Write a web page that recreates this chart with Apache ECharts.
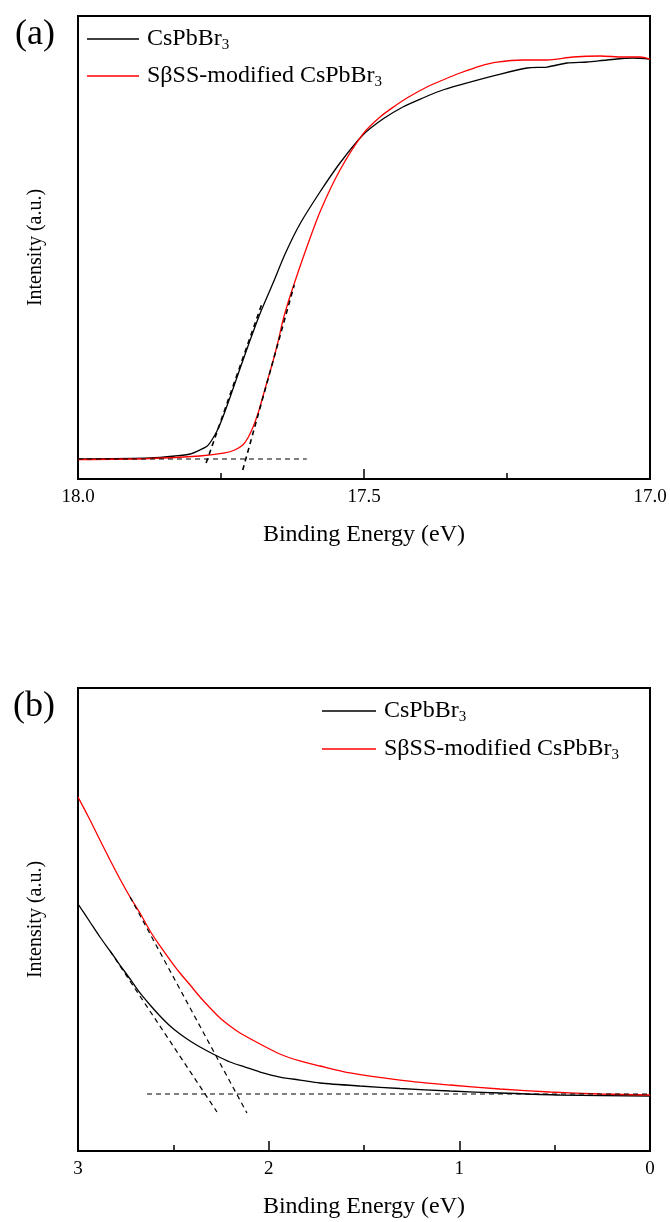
<!DOCTYPE html>
<html>
<head>
<meta charset="utf-8">
<script src="https://cdn.jsdelivr.net/npm/echarts@6/dist/echarts.min.js"></script>
<style>html,body{margin:0;padding:0;background:#fff;}#c{width:670px;height:1222px;}</style>
</head>
<body>
<div id="c"></div>
<script>
// ---- Data (binding energy eV, intensity a.u.) ----
var seriesNames = ['CsPbBr3', 'SβSS-modified CsPbBr3'];
var panelLabels = ['(a)', '(b)'];
var xTicksA = [18.0, 17.5, 17.0];
var xTicksB = [3, 2, 1, 0];

// Panel (a): secondary electron cutoff
var aBlack = [[18.000,4.32],[17.874,4.54],[17.830,4.97],[17.804,5.40],[17.787,6.26],[17.774,7.13],[17.766,8.42],[17.757,10.37],[17.748,12.96],[17.734,17.71],[17.717,23.76],[17.699,30.02],[17.682,35.64],[17.659,42.33],[17.638,48.60],[17.612,55.08],[17.577,61.99],[17.542,68.25],[17.502,74.30],[17.467,77.75],[17.432,80.35],[17.397,82.29],[17.367,83.80],[17.332,85.10],[17.267,87.26],[17.215,88.77],[17.180,88.98],[17.145,89.85],[17.110,90.06],[17.075,90.50],[17.030,90.93],[17.000,90.71]];
var aRed = [[18.000,4.21],[17.874,4.43],[17.787,4.97],[17.743,5.62],[17.726,6.26],[17.712,7.34],[17.703,8.86],[17.694,11.23],[17.685,14.25],[17.677,17.71],[17.668,21.60],[17.659,25.49],[17.650,29.81],[17.642,34.13],[17.633,38.01],[17.624,41.47],[17.603,49.03],[17.577,57.67],[17.542,66.74],[17.502,74.51],[17.472,78.19],[17.446,80.56],[17.425,82.29],[17.390,84.67],[17.358,86.39],[17.332,87.69],[17.297,89.20],[17.267,90.06],[17.222,90.50],[17.180,90.50],[17.135,91.14],[17.087,91.36],[17.047,91.14],[17.017,91.14],[17.000,90.71]];
var aBase = [[18.0,4.32],[17.60,4.32]];
var aTanBlack = [[17.776,3.46],[17.678,38.0]];
var aTanRed = [[17.712,1.94],[17.622,41.9]];

// Panel (b): valence band edge
var bBlack = [[3.000,53.35],[2.937,49.46],[2.885,46.22],[2.832,43.20],[2.780,40.17],[2.727,37.15],[2.675,34.13],[2.622,31.53],[2.570,29.16],[2.517,27.00],[2.465,25.27],[2.412,23.76],[2.360,22.46],[2.281,20.73],[2.203,19.22],[2.124,18.14],[2.045,17.06],[1.941,15.98],[1.836,15.33],[1.731,14.69],[1.521,14.04],[1.311,13.50],[1.049,12.96],[0.787,12.53],[0.472,12.10],[0.000,11.88]];
var bRed = [[3.000,76.46],[2.937,71.49],[2.885,67.17],[2.832,62.85],[2.780,58.75],[2.727,54.86],[2.675,51.40],[2.622,47.52],[2.570,44.28],[2.517,41.25],[2.465,38.44],[2.412,35.85],[2.360,33.26],[2.307,30.89],[2.255,28.73],[2.203,27.00],[2.150,25.49],[2.045,23.11],[1.941,20.95],[1.836,19.44],[1.731,18.36],[1.573,16.85],[1.311,15.33],[1.049,14.25],[0.787,13.39],[0.525,12.74],[0.262,12.31],[0.000,12.10]];
var bBase = [[2.638,12.31],[0.0,12.31]];
var bTanBlack = [[2.832,43.2],[2.271,8.42]];
var bTanRed = [[2.727,54.86],[2.114,8.21]];

var FONT = '"Liberation Serif", "Times New Roman", serif';
var chart = echarts.init(document.getElementById('c'), null, {renderer: 'canvas'});

function legendFmt(name) {
  return '{n|' + name.replace(/3$/, '') + '}{s|3}';
}
var legendText = {
  fontFamily: FONT, fontSize: 24, color: '#000', lineHeight: 28, padding: [0, 0, 0, 3],
  rich: {
    n: {fontFamily: FONT, fontSize: 24, color: '#000', lineHeight: 28},
    s: {fontFamily: FONT, fontSize: 15, color: '#000', lineHeight: 28, verticalAlign: 'bottom', padding: [14, 0, 0, 0]}
  }
};

function xAxisCfg(idx, min, max, interval, dec) {
  return {
    type: 'value', gridIndex: idx, min: min, max: max, interval: interval, inverse: true,
    name: 'Binding Energy (eV)', nameLocation: 'middle', nameGap: 44,
    nameTextStyle: {fontFamily: FONT, fontSize: 24, color: '#000'},
    axisLine: {show: true, onZero: false, lineStyle: {color: '#000', width: 2}},
    axisTick: {show: true, inside: true, length: 10, lineStyle: {color: '#000', width: 1.5}},
    minorTick: {show: true, splitNumber: 2, length: 6, lineStyle: {color: '#000', width: 1.5}},
    axisLabel: {fontFamily: FONT, fontSize: 19, color: '#000', margin: 9,
      formatter: function (v) { return v.toFixed(dec); }},
    splitLine: {show: false}, minorSplitLine: {show: false}
  };
}
function yAxisCfg(idx) {
  return {
    type: 'value', gridIndex: idx, min: 0, max: 100,
    name: 'Intensity (a.u.)', nameLocation: 'middle', nameGap: 32,
    nameTextStyle: {fontFamily: FONT, fontSize: 20, color: '#000'},
    axisLine: {show: true, lineStyle: {color: '#000', width: 2}},
    axisTick: {show: false}, axisLabel: {show: false}, splitLine: {show: false}
  };
}
function curve(name, data, color, xi) {
  return {name: name, type: 'line', xAxisIndex: xi, yAxisIndex: xi, data: data,
    showSymbol: false, smooth: 0.25, lineStyle: {color: color, width: 1.3}, itemStyle: {color: color},
    z: 3, silent: true};
}
function dash(name, data, xi, w) {
  return {name: name, type: 'line', xAxisIndex: xi, yAxisIndex: xi, data: data,
    showSymbol: false, lineStyle: {color: '#000', width: w, type: [5, 4]}, z: 4, silent: true};
}

chart.setOption({
  animation: false,
  backgroundColor: '#fff',
  title: [
    {text: panelLabels[0], left: 10, top: 12, textStyle: {fontFamily: FONT, fontSize: 36, fontWeight: 'normal', color: '#000'}},
    {text: panelLabels[1], left: 8, top: 684, textStyle: {fontFamily: FONT, fontSize: 36, fontWeight: 'normal', color: '#000'}}
  ],
  legend: [
    {left: 82, top: 19, orient: 'vertical', itemGap: 8, itemWidth: 52, itemHeight: 1.5, icon: 'rect',
     data: seriesNames, formatter: legendFmt, textStyle: legendText, selectedMode: false},
    {left: 317, top: 691, orient: 'vertical', itemGap: 9, itemWidth: 54, itemHeight: 1.5, icon: 'rect',
     data: seriesNames, formatter: legendFmt, textStyle: legendText, selectedMode: false}
  ],
  grid: [
    {left: 78, top: 16, width: 572, height: 463, show: true, borderColor: '#000', borderWidth: 2, backgroundColor: 'transparent'},
    {left: 78, top: 688, width: 572, height: 463, show: true, borderColor: '#000', borderWidth: 2, backgroundColor: 'transparent'}
  ],
  xAxis: [xAxisCfg(0, xTicksA[2], xTicksA[0], 0.5, 1), xAxisCfg(1, xTicksB[3], xTicksB[0], 1, 0)],
  yAxis: [yAxisCfg(0), yAxisCfg(1)],
  series: [
    curve(seriesNames[0], aBlack, '#000000', 0),
    curve(seriesNames[1], aRed, '#ff0000', 0),
    dash('base-a', aBase, 0, 1.2),
    dash('tan-a1', aTanBlack, 0, 1.6),
    dash('tan-a2', aTanRed, 0, 1.6),
    curve(seriesNames[0], bBlack, '#000000', 1),
    curve(seriesNames[1], bRed, '#ff0000', 1),
    dash('base-b', bBase, 1, 1.2),
    dash('tan-b1', bTanBlack, 1, 1.2),
    dash('tan-b2', bTanRed, 1, 1.2)
  ]
});
</script>
</body>
</html>
